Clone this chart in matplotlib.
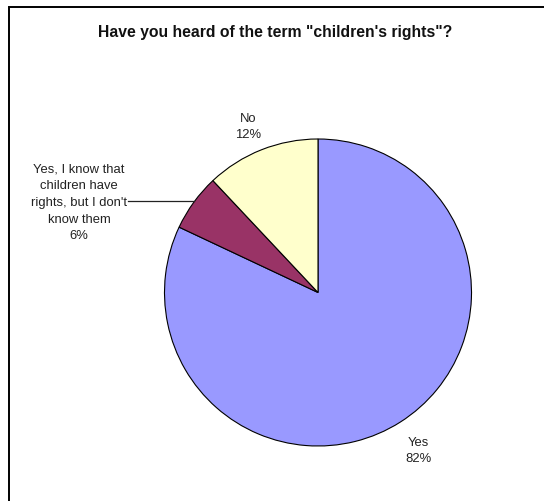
import matplotlib
matplotlib.use("Agg")
import matplotlib.pyplot as plt
from matplotlib.patches import Rectangle

plt.rcParams['font.family'] = ['Liberation Sans', 'DejaVu Sans']

categories = ["Yes", "Yes, I know that\nchildren have\nrights, but I don't\nknow them", "No"]
shares = [82, 6, 12]
colors = ["#9999FF", "#993366", "#FFFFCC"]
title = 'Have you heard of the term "children\'s rights"?'

W, H = 544, 502
fig = plt.figure(figsize=(W / 100, H / 100), dpi=100)
fig.patch.set_facecolor("white")


def fx(px):
    return px / W


def fy(py):
    return 1 - py / H


# outer frame of the chart area
fig.patches.append(Rectangle((fx(9), fy(560)), fx(600), (560 - 8) / H,
                             transform=fig.transFigure, fill=False,
                             edgecolor="black", linewidth=1.4))

fig.text(fx(275), fy(33), title, ha="center", va="center",
         fontsize=11.3, fontweight="bold", color="#111111")

cx, cy, r = 318, 293.5, 153.5
ax = fig.add_axes([fx(cx - r), fy(cy + r), 2 * r / W, 2 * r / H])
ax.pie(shares, colors=colors, startangle=90, counterclock=False,
       wedgeprops=dict(edgecolor="black", linewidth=0.8))
ax.set_xlim(-1, 1)
ax.set_ylim(-1, 1)
ax.set_aspect("auto")
ax.axis("off")

label_pos = [(418, 451), (79, 203), (248, 127)]
for cat, val, (px, py) in zip(categories, shares, label_pos):
    fig.text(fx(px), fy(py), f"{cat}\n{val}%", ha="center", va="center",
             fontsize=9.4, color="#222222", linespacing=1.52)

# leader line for the small slice
fig.add_artist(plt.Line2D([fx(128), fx(194)], [fy(202), fy(202)],
                          color="#222222", linewidth=0.9))

fig.savefig("out.png", dpi=100)
